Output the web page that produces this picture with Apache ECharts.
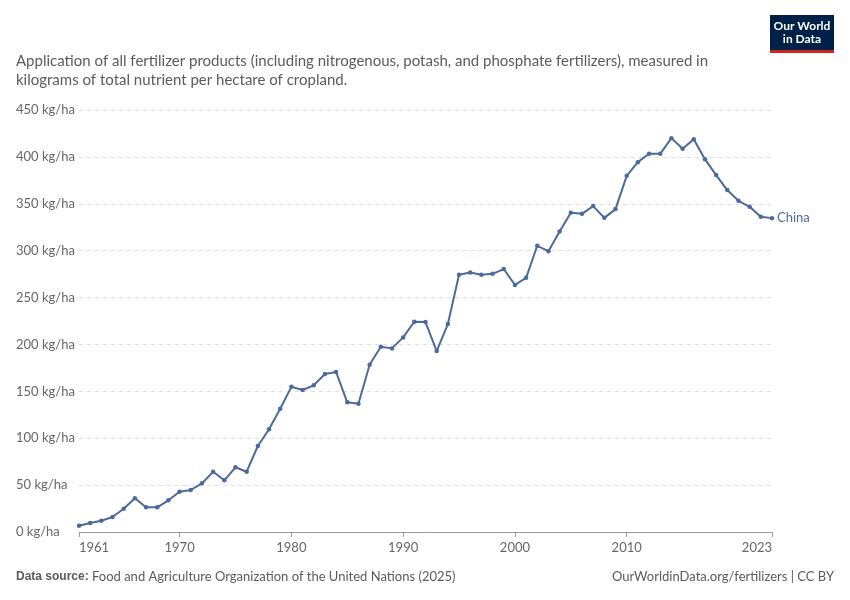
<!DOCTYPE html>
<html>
<head>
<meta charset="utf-8">
<script src="https://cdn.jsdelivr.net/npm/echarts@6/dist/echarts.min.js"></script>
<style>
  html, body { margin: 0; padding: 0; background: #fff; }
  #main { width: 850px; height: 600px; }
</style>
</head>
<body>
<div id="main"></div>
<script>
// China fertilizer use, kg/ha
var years = [];
for (var y = 1961; y <= 2023; y++) years.push(y);
var china = [
  6.7, 9.6, 12, 16, 24.8, 35.9, 26.3, 26.3, 33.8, 43,
  44.8, 51.9, 64.3, 55.1, 69, 64.3, 91.7, 109.5, 131.4, 154.8,
  151.4, 156.4, 168.4, 170.6, 138.3, 136.8, 178.3, 197.5, 195.8, 207.5,
  224.2, 223.9, 192.9, 221.7, 274.3, 276.8, 274.3, 275.3, 280.4, 263.5,
  271, 305.2, 299.5, 320.5, 340.4, 339.3, 347.5, 335, 344.3, 379.8,
  394.4, 403.3, 403.3, 420, 408.6, 418.9, 397.6, 380.6, 364.6, 353.2,
  346.8, 336.1, 334.7
];
var xTicks = [1961, 1970, 1980, 1990, 2000, 2010, 2023];

var chart = echarts.init(document.getElementById('main'), null, { renderer: 'canvas' });

var data = years.map(function (yr, i) { return [yr, china[i]]; });

var option = {
  backgroundColor: '#fff',
  textStyle: { fontFamily: 'Lato' },
  animation: false,
  grid: {
    left: 79,
    right: 78,
    top: 110,
    bottom: 68
  },
  xAxis: {
    type: 'value',
    min: 1961,
    max: 2023,
    axisLine: { show: true, lineStyle: { color: '#999', width: 1 } },
    axisTick: {
      show: true,
      length: 5,
      customValues: xTicks,
      lineStyle: { color: '#999' }
    },
    axisLabel: {
      customValues: xTicks,
      color: '#666',
      fontSize: 13,
      margin: 9,
      fontFamily: 'Lato',
      alignMinLabel: 'left',
      alignMaxLabel: 'right',
      formatter: function (v) { return String(v); }
    },
    splitLine: { show: false }
  },
  yAxis: {
    type: 'value',
    min: 0,
    max: 450,
    interval: 50,
    axisLine: { show: false },
    axisTick: { show: false },
    axisLabel: {
      align: 'left',
      margin: 63,
      color: '#666',
      fontSize: 13,
      fontFamily: 'Lato',
      formatter: function (v) { return v + ' kg/ha'; }
    },
    splitLine: {
      lineStyle: { type: [4, 4], color: '#ddd', width: 1 }
    }
  },
  series: [
    {
      name: 'China',
      type: 'line',
      data: data,
      color: '#4c6a9c',
      symbol: 'circle',
      symbolSize: 4.5,
      lineStyle: { width: 2, color: '#4c6a9c' },
      itemStyle: { color: '#4c6a9c' },
      endLabel: {
        show: true,
        formatter: 'China',
        color: '#4c6a9c',
        fontSize: 13,
        fontFamily: 'Lato',
        distance: 5
      }
    }
  ],
  graphic: [
    {
      type: 'text',
      left: 16,
      top: 52,
      style: {
        text: 'Application of all fertilizer products (including nitrogenous, potash, and phosphate fertilizers), measured in\nkilograms of total nutrient per hectare of cropland.',
        fill: '#5b5b5b',
        font: '15px Lato',
        lineHeight: 19
      }
    },
    {
      type: 'rect',
      shape: { x: 770, y: 15, width: 64, height: 35 },
      style: { fill: '#002147' }
    },
    {
      type: 'rect',
      shape: { x: 770, y: 50, width: 64, height: 3 },
      style: { fill: '#ce261e' }
    },
    {
      type: 'text',
      x: 802,
      y: 33,
      style: {
        text: 'Our World\nin Data',
        fill: '#fff',
        font: 'bold 12px Lato',
        align: 'center',
        verticalAlign: 'middle',
        lineHeight: 13
      }
    },
    {
      type: 'text',
      left: 16,
      top: 570,
      style: {
        rich: {
          b: { fontWeight: 'bold', fill: '#5b5b5b', font: 'bold 13px Lato' },
          n: { fill: '#5b5b5b', font: '13px Lato' }
        },
        text: '{b|Data source:} {n|Food and Agriculture Organization of the United Nations (2025)}'
      }
    },
    {
      type: 'text',
      right: 16,
      top: 570,
      style: {
        text: 'OurWorldinData.org/fertilizers | CC BY',
        fill: '#5b5b5b',
        font: '13px Lato',
        align: 'right'
      }
    }
  ]
};

chart.setOption(option);
</script>
</body>
</html>
